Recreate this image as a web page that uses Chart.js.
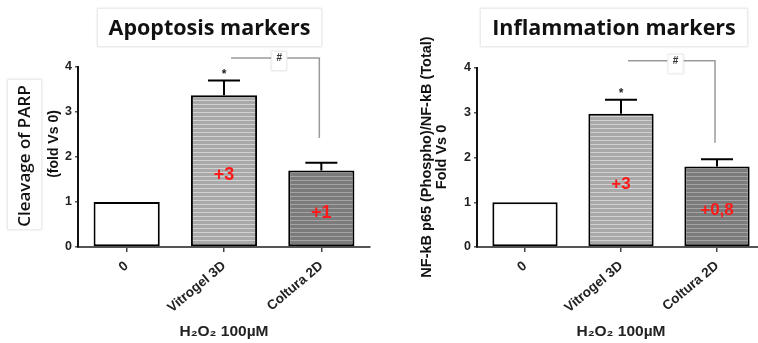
<!DOCTYPE html>
<html>
<head>
<meta charset="utf-8">
<script src="https://cdn.jsdelivr.net/npm/chart.js@4.4.0/dist/chart.umd.min.js"></script>
<style>
html, body { margin: 0; padding: 0; background: #fff; overflow: hidden; }
#wrap { position: relative; width: 758px; height: 343px; overflow: hidden; }
canvas { position: absolute; top: 0; }
#leftChart { left: 0; }
#rightChart { left: 380px; }
</style>
</head>
<body>
<div id="wrap">
  <canvas id="leftChart" width="380" height="343"></canvas>
  <canvas id="rightChart" width="400" height="343"></canvas>
</div>
<script>
// Data
var categories = ['0', 'Vitrogel 3D', 'Coltura 2D'];
var parpValues = [1, 3.37, 1.70];
var parpErrors = [0, 0.33, 0.17];
var parpLabels = ['', '+3', '+1'];
var nfkbValues = [1, 2.98, 1.80];
var nfkbErrors = [0, 0.31, 0.16];
var nfkbLabels = ['', '+3', '+0,8'];
var starMarks = ['', '*', ''];
var xAxisTitle = 'H₂O₂ 100µM';

var SANS = '"Liberation Sans", Arial, sans-serif';

// Horizontal stripe fill like the original hatching
function stripes(base, light) {
    var c = document.createElement('canvas');
    c.width = 4; c.height = 4;
    var g = c.getContext('2d');
    g.fillStyle = base;
    g.fillRect(0, 0, 4, 4);
    g.fillStyle = light;
    g.fillRect(0, 0, 4, 1);
    return g.createPattern(c, 'repeat');
}

function softBox(ctx, x, y, w, h) {
    ctx.save();
    ctx.fillStyle = '#fff';
    ctx.shadowColor = 'rgba(0,0,0,0.12)';
    ctx.shadowBlur = 2;
    ctx.fillRect(x, y, w, h);
    ctx.restore();
    ctx.save();
    ctx.strokeStyle = '#ececec';
    ctx.lineWidth = 1;
    ctx.strokeRect(x + 0.5, y + 0.5, w - 1, h - 1);
    ctx.restore();
}

// Draws error bars, stars, red labels, the # bracket and the titles
var extrasPlugin = {
    id: 'extras',
    afterDraw: function (chart, args, opts) {
        var ctx = chart.ctx;
        var ys = chart.scales.y;
        var meta = chart.getDatasetMeta(0);

        ctx.save();
        // error bars
        ctx.strokeStyle = '#000';
        ctx.lineWidth = 2;
        opts.values.forEach(function (v, i) {
            if (!opts.errors[i]) return;
            var x = meta.data[i].x;
            var top = ys.getPixelForValue(v + opts.errors[i]);
            ctx.beginPath();
            ctx.moveTo(x, ys.getPixelForValue(v));
            ctx.lineTo(x, top);
            ctx.moveTo(x - 16, top);
            ctx.lineTo(x + 16, top);
            ctx.stroke();
            if (starMarks[i]) {
                ctx.fillStyle = '#222';
                ctx.font = 'bold 12px ' + SANS;
                ctx.textAlign = 'center';
                ctx.textBaseline = 'alphabetic';
                ctx.fillText(starMarks[i], x, top - 3);
            }
        });

        // red change labels in the bars
        ctx.fillStyle = '#ff1a1a';
        ctx.font = opts.labelFont;
        ctx.textAlign = 'center';
        ctx.textBaseline = 'middle';
        opts.labels.forEach(function (t, i) {
            if (!t) return;
            ctx.fillText(t, meta.data[i].x, ys.getPixelForValue(opts.values[i] / 2) + 4);
        });

        // significance bracket
        var x1 = meta.data[1].x + 7;
        var x2 = meta.data[2].x - 2;
        var yb = ys.getPixelForValue(opts.bracketTop);
        var ye = ys.getPixelForValue(opts.bracketEnd);
        ctx.strokeStyle = '#9a9a9a';
        ctx.lineWidth = 1.5;
        ctx.beginPath();
        ctx.moveTo(x1, yb);
        ctx.lineTo(x2, yb);
        ctx.lineTo(x2, ye);
        ctx.stroke();
        var hx = (x1 + x2) / 2 + 4;
        softBox(ctx, hx - 8, yb - 7, 16, 20);
        ctx.fillStyle = '#333';
        ctx.font = 'bold 10px ' + SANS;
        ctx.textAlign = 'center';
        ctx.textBaseline = 'middle';
        ctx.fillText('#', hx, yb);

        // chart title in its box
        var tb = opts.titleBox;
        softBox(ctx, tb[0], tb[1], tb[2], tb[3]);
        ctx.fillStyle = '#111';
        ctx.font = 'bold 21.5px "Open Sans"';
        ctx.fillText(opts.title, tb[0] + tb[2] / 2, tb[1] + tb[3] / 2 + 1);

        // y axis title
        if (opts.yBox) {
            softBox(ctx, opts.yBox[0], opts.yBox[1], opts.yBox[2], opts.yBox[3]);
        }
        opts.yTitle.forEach(function (line) {
            ctx.save();
            ctx.translate(line.x, line.y);
            ctx.rotate(-Math.PI / 2);
            ctx.fillStyle = '#111';
            ctx.font = line.font;
            ctx.textAlign = 'center';
            ctx.textBaseline = 'middle';
            ctx.fillText(line.text, 0, 0);
            ctx.restore();
        });
        ctx.restore();
    }
};

function makeChart(id, values, cfg) {
    var fills = ['#ffffff', stripes('#a9a9a9', '#d2d2d2'), stripes('#7b7b7b', '#a4a4a4')];
    return new Chart(document.getElementById(id), {
        type: 'bar',
        data: {
            labels: categories,
            datasets: [{
                data: values,
                backgroundColor: fills,
                borderColor: '#000',
                borderWidth: 2,
                borderSkipped: false,
                barPercentage: 0.68,
                categoryPercentage: 1
            }]
        },
        options: {
            responsive: false,
            animation: false,
            layout: { padding: { left: 0, top: cfg.top, right: cfg.right, bottom: 0 } },
            plugins: {
                legend: { display: false },
                tooltip: { enabled: false },
                extras: cfg.extras
            },
            scales: {
                x: {
                    grid: { offset: false, drawOnChartArea: false, tickLength: 5, color: '#444', lineWidth: 1.5 },
                    border: { color: '#555', width: 2 },
                    ticks: {
                        minRotation: 40, maxRotation: 40, padding: 6, color: '#222',
                        font: { family: SANS, size: 13.5, weight: 'bold' }
                    },
                    title: {
                        display: true, text: xAxisTitle, color: '#222',
                        font: { family: SANS, size: 15.5, weight: 'bold' },
                        padding: { top: 0, bottom: 2 }
                    },
                    afterFit: function (s) { s.height = 96; }
                },
                y: {
                    min: 0, max: 4,
                    grid: { drawOnChartArea: false, tickLength: 3, color: '#555', lineWidth: 1.5 },
                    border: { color: '#111', width: 2 },
                    ticks: {
                        stepSize: 1, padding: 3, color: '#222',
                        font: { family: SANS, size: 12.5, weight: 'bold' }
                    },
                    afterFit: function (s) { s.width = cfg.yWidth; }
                }
            }
        },
        plugins: [extrasPlugin]
    });
}

makeChart('leftChart', parpValues, {
    top: 67, right: 10, yWidth: 78,
    extras: {
        values: parpValues, errors: parpErrors, labels: parpLabels,
        labelFont: 'bold 18px ' + SANS,
        bracketTop: 4.2, bracketEnd: 2.42,
        title: 'Apoptosis markers', titleBox: [97, 8, 225, 39],
        yBox: [7, 79, 35, 151],
        yTitle: [
            { text: 'Cleavage of PARP', x: 25, y: 156, font: '600 17px "Open Sans"' },
            { text: '(fold Vs 0)', x: 54, y: 144, font: 'bold 14px ' + SANS }
        ]
    }
});

makeChart('rightChart', nfkbValues, {
    top: 68, right: 15, yWidth: 97,
    extras: {
        values: nfkbValues, errors: nfkbErrors, labels: nfkbLabels,
        labelFont: 'bold 17px ' + SANS,
        bracketTop: 4.16, bracketEnd: 2.33,
        title: 'Inflammation markers', titleBox: [100, 8, 268, 39],
        yBox: null,
        yTitle: [
            { text: 'NF-kB p65 (Phospho)/NF-kB (Total)', x: 47, y: 157, font: 'bold 14.5px ' + SANS },
            { text: 'Fold Vs 0', x: 62, y: 157, font: 'bold 14.5px ' + SANS }
        ]
    }
});
</script>
</body>
</html>
